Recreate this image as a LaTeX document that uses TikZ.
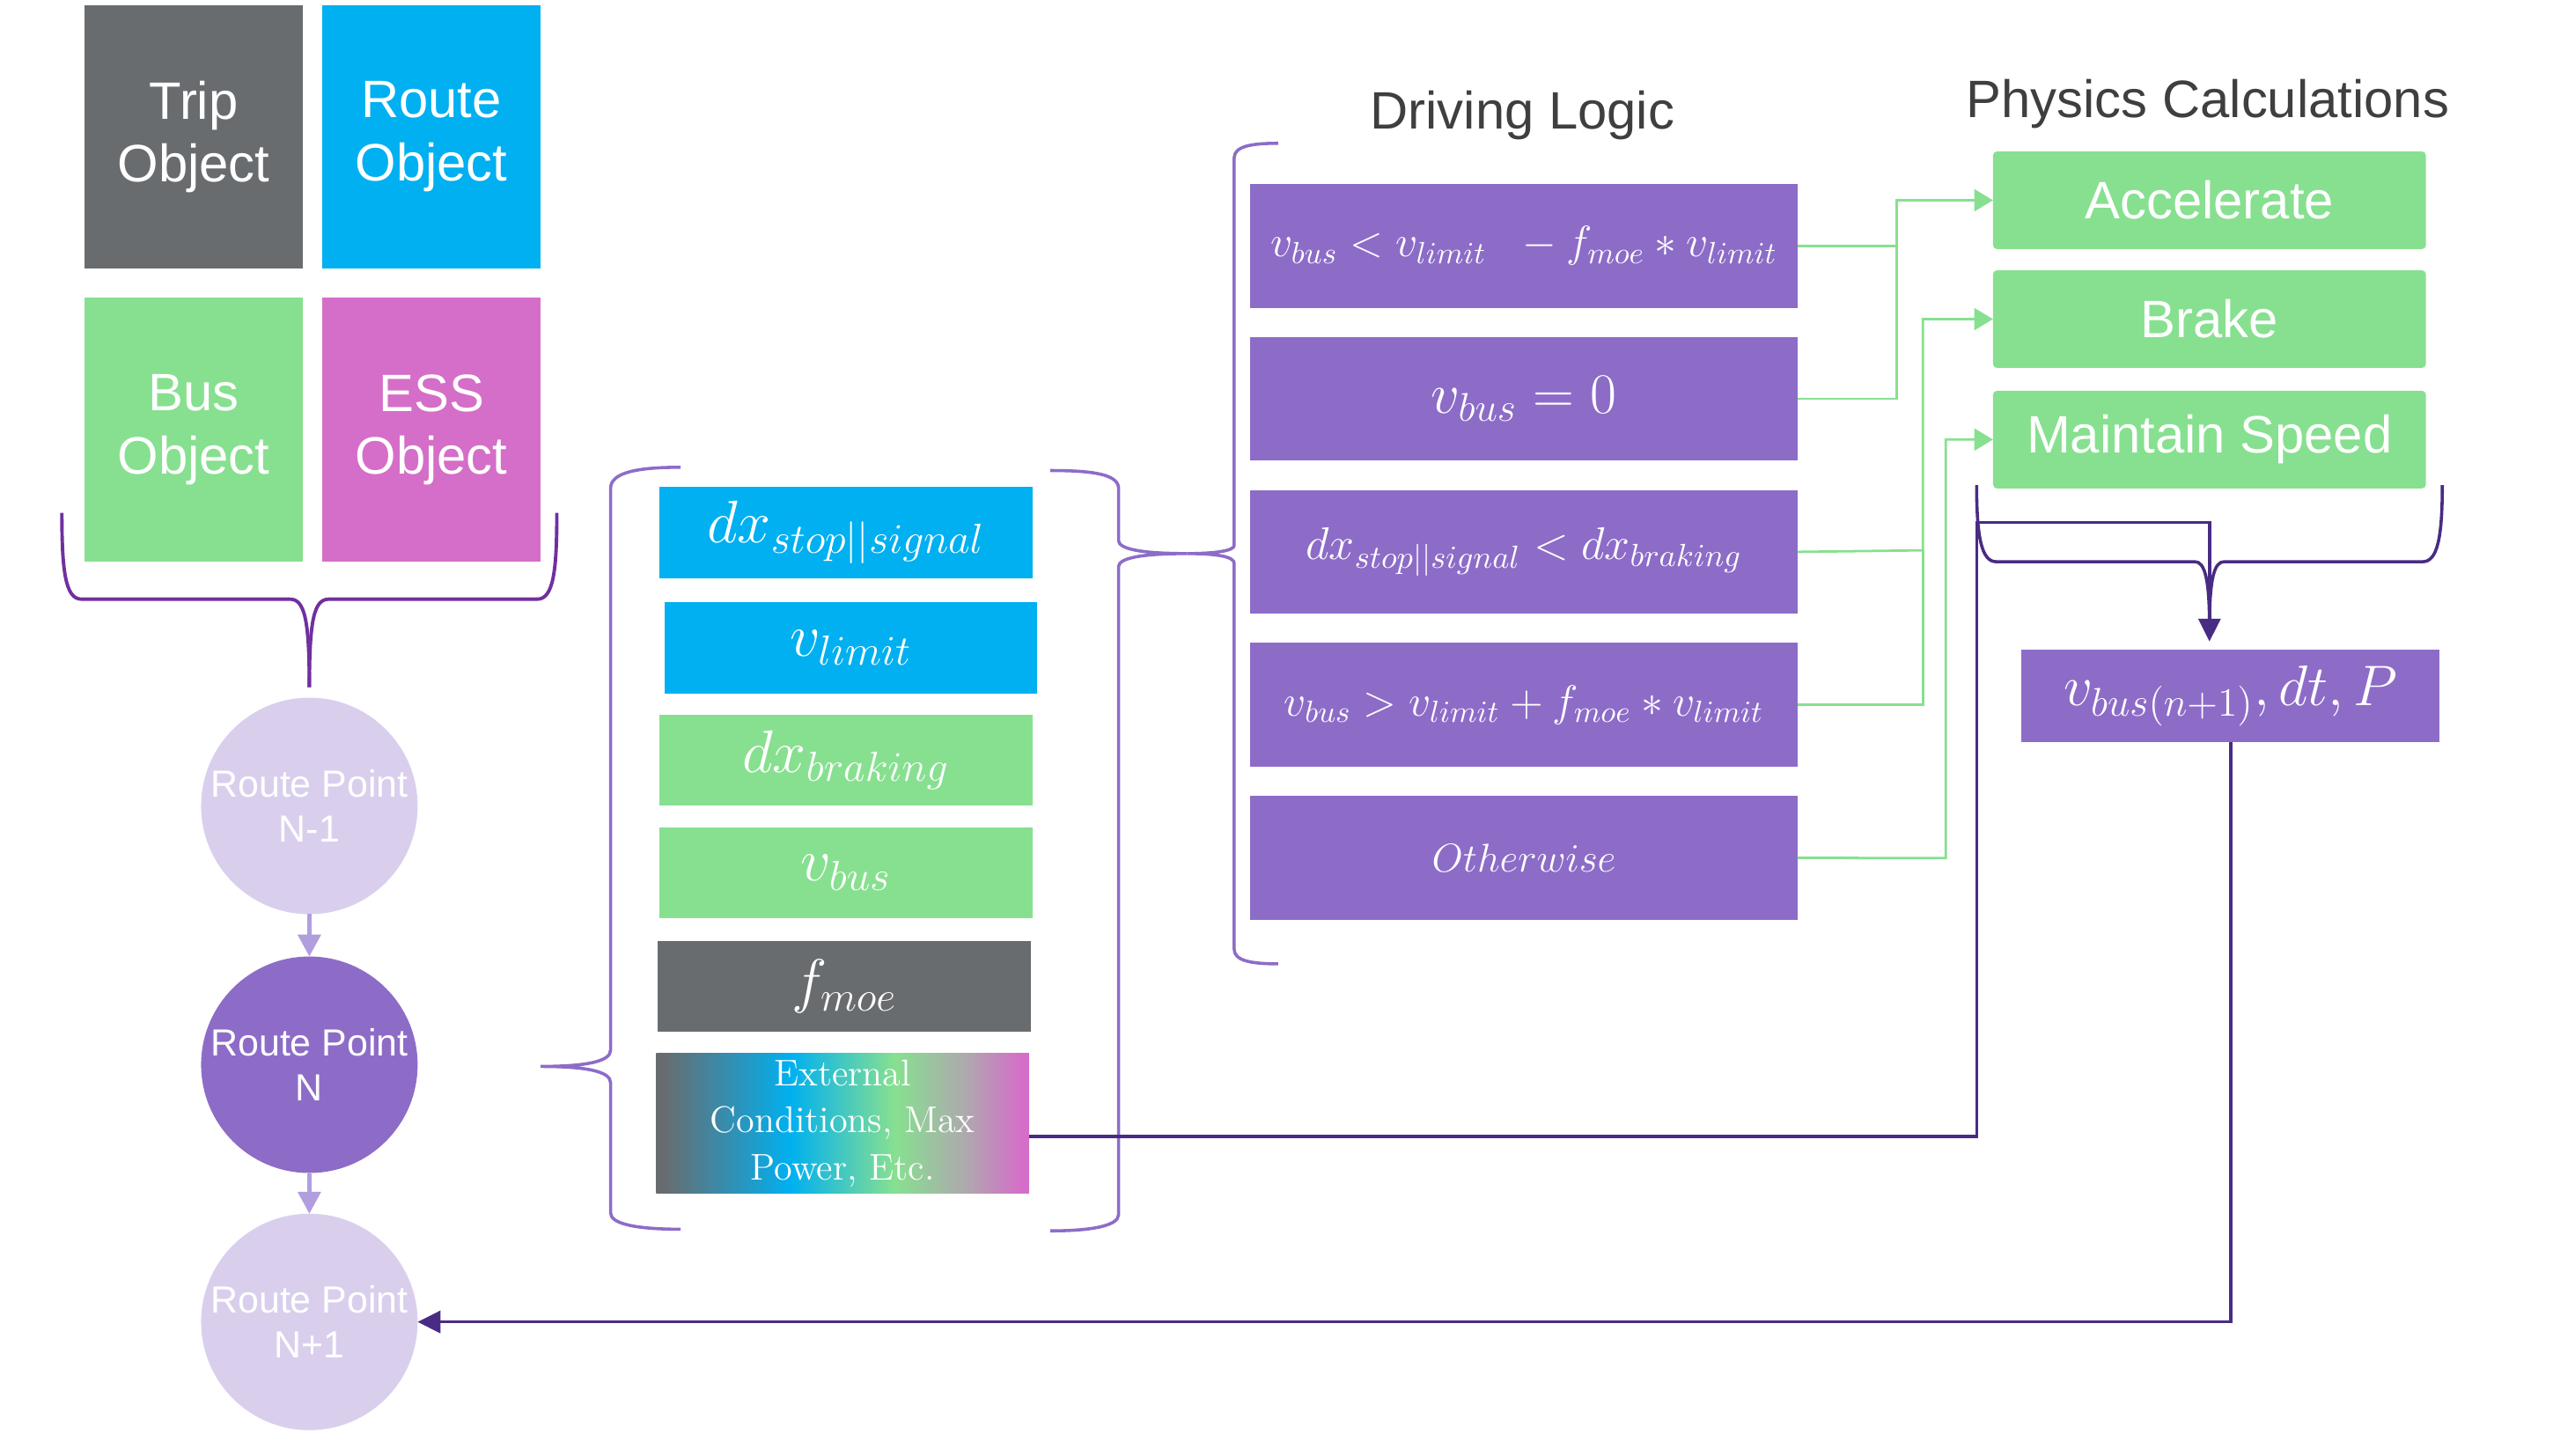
\RequirePackage{fix-cm}
\documentclass[tikz,border=0pt]{standalone}
\usepackage{fontspec}
\setsansfont{Liberation Sans}
\usepackage{tikz}
\usetikzlibrary{arrows.meta, positioning, shapes.geometric}

\definecolor{objgray}{RGB}{105,108,111}
\definecolor{objcyan}{RGB}{0,176,240}
\definecolor{objgreen}{RGB}{135,224,144}
\definecolor{objpink}{RGB}{213,110,200}
\definecolor{logicpurple}{RGB}{141,108,200}
\definecolor{pointlav}{RGB}{217,207,237}
\definecolor{bracepurple}{RGB}{112,48,160}
\definecolor{flowpurple}{RGB}{72,44,132}
\definecolor{steppurple}{RGB}{177,158,222}
\definecolor{titlegray}{RGB}{63,63,63}
\definecolor{fadegray}{RGB}{172,172,172}

\pgfdeclarehorizontalshading{extshading}{100bp}{color(0bp)=(objgray); color(26bp)=(objgray); color(43bp)=(objcyan); color(57bp)=(objgreen); color(66bp)=(fadegray); color(74bp)=(objpink); color(100bp)=(objpink)}

\begin{document}
\begin{tikzpicture}[
      x=0.02cm, y=-0.02cm,
      % Styles
      objbox/.style={
        rectangle, minimum width=2.68cm, minimum height=3.24cm,
        inner sep=0pt, outer sep=0pt, text=white, align=center,
        font=\sffamily\fontsize{18.4}{22}\selectfont
      },
      routepoint/.style={
        circle, minimum size=2.66cm, inner sep=0pt, outer sep=0pt,
        text=white, align=center, font=\sffamily\fontsize{13.2}{15.8}\selectfont
      },
      varbox/.style={
        rectangle, minimum width=4.58cm, minimum height=1.12cm,
        inner sep=0pt, outer sep=0pt, text=white, font=\fontsize{21}{25}\selectfont
      },
      logicbox/.style={
        rectangle, fill=logicpurple, minimum width=6.72cm, minimum height=1.52cm,
        inner sep=0pt, outer sep=0pt, text=white, font=\fontsize{15.3}{18}\selectfont
      },
      physbox/.style={
        rectangle, rounded corners=0.05cm, fill=objgreen,
        minimum width=5.32cm, minimum height=1.2cm, inner sep=0pt, outer sep=0pt,
        text=white, font=\sffamily\fontsize{18.4}{22}\selectfont
      },
      title_text/.style={
        text=titlegray, font=\sffamily\fontsize{18.4}{22}\selectfont
      },
      green_arrow/.style={
        -{Triangle[length=0.23cm, width=0.27cm]}, draw=objgreen, line width=0.85pt
      },
      green_line/.style={draw=objgreen, line width=0.85pt},
      flow_arrow/.style={
        -{Triangle[length=0.28cm, width=0.27cm]}, draw=flowpurple, line width=1.1pt
      },
      step_arrow/.style={
        -{Triangle[length=0.27cm, width=0.28cm]}, draw=steppurple, line width=1.3pt
      },
      obj_brace/.style={draw=bracepurple, line width=1.2pt},
      input_brace/.style={draw=logicpurple, line width=1.1pt},
      phys_brace/.style={draw=flowpurple, line width=1.1pt}
    ]
    \useasboundingbox (0,0) rectangle (1568,894);

    % --- 1. NODES ---

    % Objects
    \node[objbox, fill=objgray] (trip) at (119,84) {Trip\\Object};
    \node[objbox, fill=objcyan, right=0.24cm of trip] (route) {Route\\Object};
    \node[objbox, fill=objgreen, below=0.36cm of trip] (bus) {Bus\\Object};
    \node[objbox, fill=objpink, right=0.24cm of bus] (ess) {ESS\\Object};

    % Route points
    \node[routepoint, fill=pointlav] (rpprev) at (190,495) {Route Point\\N-1};
    \node[routepoint, fill=logicpurple, below=0.52cm of rpprev] (rpcur) {Route Point\\N};
    \node[routepoint, fill=pointlav, below=0.5cm of rpcur] (rpnext) {Route Point\\N+1};

    % Inputs
    \node[varbox, fill=objcyan] (dxstop) at (519.5,327) {$dx_{stop||signal}$};
    \node[varbox, fill=objcyan, below=0.3cm of dxstop, xshift=0.06cm] (vlimit) {$v_{limit}$};
    \node[varbox, fill=objgreen, below=0.26cm of vlimit, xshift=-0.06cm] (dxbrake) {$dx_{braking}$};
    \node[varbox, fill=objgreen, below=0.26cm of dxbrake] (vbusin) {$v_{bus}$};
    \node[varbox, fill=objgray, below=0.28cm of vbusin, xshift=-0.02cm] (fmoe) {$f_{moe}$};
    \node[varbox, shade, shading=extshading, minimum height=1.72cm, align=center,
          font=\rmfamily\fontsize{13}{16.5}\selectfont,
          below=0.26cm of fmoe, xshift=-0.02cm] (ext) {External\\Conditions, Max\\Power, Etc.};

    % Driving logic
    \node[title_text] (logic_title) at (935,71) {Driving Logic};
    \node[logicbox] (cond1) at (936,151) {$v_{bus} < v_{limit}\ \ - f_{moe} * v_{limit}$};
    \node[logicbox, below=0.36cm of cond1, font=\fontsize{20}{24}\selectfont] (cond2) {$v_{bus} = 0$};
    \node[logicbox, below=0.36cm of cond2, font=\fontsize{16}{19}\selectfont] (cond3) {$dx_{stop||signal} < dx_{braking}$};
    \node[logicbox, below=0.36cm of cond3] (cond4) {$v_{bus} > v_{limit} + f_{moe} * v_{limit}$};
    \node[logicbox, below=0.36cm of cond4, font=\fontsize{14}{17}\selectfont] (cond5) {$Otherwise$};

    % Physics calculations
    \node[title_text] (phys_title) at (1356,64) {Physics Calculations};
    \node[physbox] (accel) at (1357,123) {Accelerate};
    \node[physbox, below=0.26cm of accel] (brake) {Brake};
    \node[physbox, below=0.28cm of brake] (maint) {Maintain Speed};
    \node[rectangle, fill=logicpurple, minimum width=5.14cm, minimum height=1.14cm,
          inner sep=0pt, outer sep=0pt, text=white, font=\fontsize{20}{24}\selectfont]
          (vbus) at (1370,427.5) {$v_{bus(n+1)}, dt, P$};

    % Bend points
    \coordinate (accel_bus) at (1165,151);
    \coordinate (brake_bus) at (1181,338);
    \coordinate (maint_bus) at (1195,527);
    \coordinate (ext_bend) at (1214,321);
    \coordinate (phys_join) at (1357,321);

    % --- 2. BRACES ---
    \draw[obj_brace] (38,315) .. controls (38,350) and (40,368) .. (50,368) -- (178,368)
          .. controls (187,368) and (190,380) .. (190,422);
    \draw[obj_brace] (342,315) .. controls (342,350) and (340,368) .. (330,368) -- (202,368)
          .. controls (193,368) and (190,380) .. (190,422);

    \draw[input_brace] (418,287) .. controls (392,287) and (375,290) .. (375,300) -- (375,645)
          .. controls (375,652) and (360,655) .. (332,655)
          .. controls (360,655) and (375,658) .. (375,665) -- (375,745)
          .. controls (375,752) and (392,755) .. (418,755);
    \draw[input_brace] (645,289) .. controls (670,289) and (687,291) .. (687,300) -- (687,332)
          .. controls (687,337) and (700,340) .. (729,340)
          .. controls (700,340) and (687,343) .. (687,348) -- (687,746)
          .. controls (687,753) and (670,756) .. (645,756);
    \draw[input_brace] (785,88) .. controls (768,88) and (758,90) .. (758,97) -- (758,335)
          .. controls (758,338) and (748,340) .. (729,340)
          .. controls (748,340) and (758,342) .. (758,346) -- (758,583)
          .. controls (758,590) and (768,592) .. (785,592);

    \draw[phys_brace] (1214,298) .. controls (1214,330) and (1217,345) .. (1226,345) -- (1348,345)
          .. controls (1354,345) and (1357,355) .. (1357,385);
    \draw[phys_brace] (1500,298) .. controls (1500,330) and (1497,345) .. (1488,345) -- (1366,345)
          .. controls (1360,345) and (1357,355) .. (1357,385);

    % --- 3. EDGES ---

    % Route point sequence
    \draw[step_arrow] (rpprev) -- (rpcur);
    \draw[step_arrow] (rpcur) -- (rpnext);

    % Logic -> physics
    \draw[green_arrow] (cond1.east) -- (accel_bus) |- (accel.west);
    \draw[green_line] (cond2.east) -| (accel_bus);
    \draw[green_arrow] (cond3.east) -- (brake_bus) |- (brake.west);
    \draw[green_line] (cond4.east) -| (brake_bus);
    \draw[green_arrow] (cond5.east) -- (maint_bus) |- (maint.west);

    % External conditions -> result
    \draw[flow_arrow, shorten >=0.1cm] ([yshift=-0.16cm]ext.east) -| (ext_bend) -- (phys_join) -- (phys_join |- vbus.north);

    % Result -> next route point
    \draw[flow_arrow] (vbus.south) |- (rpnext.east);

    \end{tikzpicture}
\end{document}
